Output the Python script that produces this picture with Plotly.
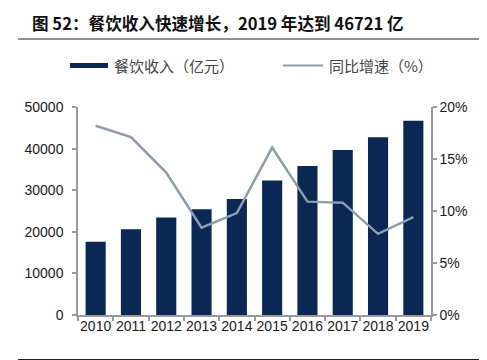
import plotly.graph_objects as go

years = ["2010", "2011", "2012", "2013", "2014", "2015", "2016", "2017", "2018", "2019"]
revenue = [17636, 20635, 23448, 25392, 27860, 32310, 35799, 39644, 42716, 46721]
growth = [0.182, 0.171, 0.137, 0.084, 0.098, 0.161, 0.109, 0.108, 0.078, 0.094]

title_text = "图 52：餐饮收入快速增长，2019 年达到 46721 亿"
bar_name = "餐饮收入（亿元）"
line_name = "同比增速（%）"

BAR = "#0b2855"
LINE = "#8d9cae"
AX = "#9a9a9a"
W, H = 487, 360
ML, MR, MT, MB = 70, 64, 99, 53
PW, PH = W - ML - MR, H - MT - MB

fig = go.Figure()
fig.add_trace(go.Bar(x=years, y=revenue, name=bar_name, marker_color=BAR,
                     marker_line_width=0, yaxis="y"))
fig.add_trace(go.Scatter(x=years, y=growth, name=line_name, mode="lines",
                         line=dict(color=LINE, width=2.5), yaxis="y2"))

font_ax = dict(family="Liberation Sans, Arial, sans-serif", size=14, color="#1a1a1a")

fig.update_layout(
    width=W, height=H,
    margin=dict(l=ML, r=MR, t=MT, b=MB),
    paper_bgcolor="white", plot_bgcolor="white",
    showlegend=False,
    bargap=0.43,
    xaxis=dict(type="category", showgrid=False, showline=True, linecolor=AX, linewidth=1.5,
               ticks="outside", tickson="boundaries", ticklen=4, tickcolor=AX, tickwidth=1.5,
               tickfont=font_ax, tickangle=0, ticklabelstandoff=-3),
    yaxis=dict(range=[0, 50000], dtick=10000, tickformat="d", showgrid=False, showline=True,
               linecolor=AX, linewidth=1.5, ticks="outside", ticklen=4, tickcolor=AX,
               tickwidth=1.5, tickfont=font_ax, zeroline=False, ticklabelstandoff=6),
    yaxis2=dict(range=[0, 0.2], dtick=0.05, tickformat=".0%", overlaying="y", side="right",
                showgrid=False, showline=True, linecolor=AX, linewidth=1.5, ticks="outside",
                ticklen=4, tickcolor=AX, tickwidth=1.5, tickfont=font_ax, zeroline=False),
)

def px(x):
    return (x - ML) / PW

def py(y):
    return (H - MB - y) / PH

# Title and rules
fig.add_annotation(text="<b>" + title_text + "</b>", xref="paper", yref="paper",
                   x=px(22), y=py(15), xanchor="left", yanchor="middle", showarrow=False,
                   font=dict(family="Noto Sans CJK SC", size=16.6, color="#111"))
fig.add_shape(type="line", xref="paper", yref="paper", x0=px(10), x1=px(471),
              y0=py(31), y1=py(31), line=dict(color="#222", width=1.2))
fig.add_shape(type="line", xref="paper", yref="paper", x0=px(10), x1=px(471),
              y0=py(351.5), y1=py(351.5), line=dict(color="#222", width=1.2))

# Legend
fig.add_shape(type="rect", xref="paper", yref="paper", x0=px(62), x1=px(100),
              y0=py(60), y1=py(55), fillcolor=BAR, line_width=0)
fig.add_annotation(text=bar_name, xref="paper", yref="paper", x=px(104), y=py(57.5),
                   xanchor="left", yanchor="middle", showarrow=False,
                   font=dict(family="Noto Sans CJK SC", size=15, color="#444"))
fig.add_shape(type="line", xref="paper", yref="paper", x0=px(275), x1=px(315),
              y0=py(57.5), y1=py(57.5), line=dict(color=LINE, width=2))
fig.add_annotation(text=line_name, xref="paper", yref="paper", x=px(319), y=py(57.5),
                   xanchor="left", yanchor="middle", showarrow=False,
                   font=dict(family="Noto Sans CJK SC", size=15, color="#444"))

fig.write_html("out.html")
